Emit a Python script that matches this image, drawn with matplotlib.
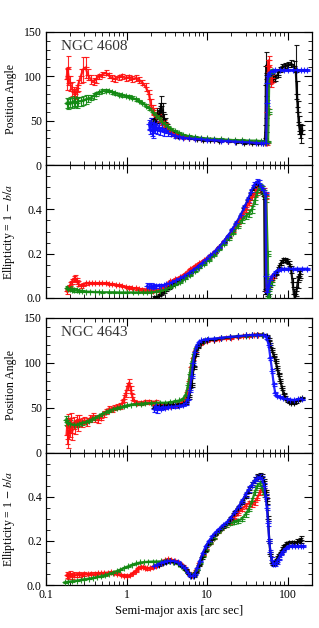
import matplotlib
matplotlib.use("Agg")
import matplotlib.pyplot as plt
from matplotlib.ticker import LogLocator, FixedLocator, MultipleLocator, NullFormatter, FixedFormatter

plt.rcParams['font.family'] = ['Liberation Serif', 'DejaVu Serif']
plt.rcParams['mathtext.fontset'] = 'stix'

# ---------------- NGC 4608 : position angle (a, value, error) ----------------
pa4608_red = [(0.18, 97, 12), (0.185, 108, 15), (0.19, 100, 10), (0.20, 92, 8), (0.21, 86, 8), (0.22, 82, 6),
    (0.23, 80, 6), (0.24, 82, 5), (0.25, 90, 6), (0.27, 100, 8), (0.29, 108, 14), (0.31, 110, 12), (0.33, 102, 6),
    (0.36, 96, 5), (0.39, 94, 4), (0.42, 97, 4), (0.46, 100, 3), (0.50, 102, 3), (0.55, 104, 3), (0.60, 101, 3),
    (0.66, 98, 3), (0.72, 97, 3), (0.80, 99, 3), (0.88, 100, 3), (0.97, 98, 3), (1.07, 99, 3), (1.18, 97, 3),
    (1.30, 98, 3), (1.43, 96, 3), (1.57, 93, 3), (1.73, 88, 4), (1.9, 80, 5), (2.0, 68, 6), (2.1, 62, 6),
    (2.2, 58, 6), (2.35, 55, 5), (2.5, 53, 5), (2.7, 50, 5), (2.9, 47, 4), (3.1, 43, 4), (3.4, 39, 3), (3.7, 36, 3),
    (4.1, 34, 2), (4.6, 33, 2), (5.2, 32, 2), (6, 31, 1.5), (7, 30, 1.5), (8.5, 29.5, 1), (10, 29, 1), (12, 28.5, 1),
    (15, 28, 1), (18, 27.5, 1), (22, 27, 1), (27, 27, 1), (33, 26.5, 1), (40, 26, 1), (46, 25.5, 1), (52, 25, 1),
    (55, 25, 2), (56, 60, 4), (57, 112, 6), (58, 118, 5), (59, 105, 5), (60, 95, 4), (62, 92, 4), (63, 98, 4)]
pa4608_green = [(0.18, 70, 6), (0.19, 69, 6), (0.20, 71, 6), (0.21, 70, 6), (0.22, 72, 6), (0.23, 71, 6),
    (0.24, 70, 6), (0.25, 72, 5), (0.27, 72, 5), (0.29, 73, 5), (0.31, 74, 5), (0.33, 75, 4), (0.36, 76, 3),
    (0.39, 78, 3), (0.42, 80, 2), (0.46, 82, 2), (0.50, 83.5, 2), (0.55, 84, 1.5), (0.60, 83.5, 1.5), (0.66, 82, 1.5),
    (0.72, 81, 1.5), (0.80, 79.5, 1.5), (0.88, 78.5, 1.5), (0.97, 78, 1.5), (1.07, 77, 1.5), (1.18, 76, 1.5),
    (1.30, 74, 1.5), (1.43, 72, 1.5), (1.57, 70, 1.5), (1.73, 67, 1.5), (1.9, 64, 1.5), (2.1, 60, 1.5),
    (2.3, 56, 1.5), (2.5, 53, 1.5), (2.75, 49, 1.5), (3.0, 46, 1.5), (3.3, 43, 1.5), (3.6, 40, 1.2), (4.0, 38, 1.2),
    (4.5, 36, 1), (5.0, 34, 1), (6, 32.5, 1), (7, 31.5, 1), (8.5, 30.5, 1), (10, 30, 1), (12, 29.5, 1), (15, 29, 1),
    (18, 28.5, 1), (22, 28, 1), (27, 28, 1), (33, 27.5, 1), (40, 27.5, 1), (46, 27, 1), (52, 26.5, 1), (57, 26, 1),
    (58, 60, 3), (59, 100, 3), (61, 104, 2), (63, 106, 2)]
pa4608_blue = [(1.9, 46, 5), (1.95, 40, 5), (2.0, 48, 5), (2.05, 38, 5), (2.1, 44, 5), (2.15, 36, 5), (2.2, 47, 5),
    (2.25, 41, 5), (2.3, 45, 5), (2.4, 39, 4), (2.5, 43, 4), (2.6, 38, 4), (2.75, 42, 4), (2.9, 37, 4), (3.1, 39, 3),
    (3.3, 36, 3), (3.6, 35, 2), (4.0, 33, 2), (4.5, 32, 1.5), (5.0, 31, 1.5), (6, 30, 1), (7, 29.5, 1), (8.5, 29, 1),
    (10, 28.5, 1), (12, 28, 1), (15, 27.5, 1), (18, 27, 1), (22, 26.5, 1), (27, 26, 1), (33, 25.5, 1), (40, 25, 1),
    (46, 24.5, 1), (50, 24.5, 1), (54, 25, 1), (55, 70, 3), (55.5, 92, 3), (56.5, 100, 2), (58, 103, 2),
    (61, 105, 1.5), (65, 106, 1), (70, 107, 1), (80, 107, 1), (90, 107, 1), (100, 107, 1), (115, 107, 1),
    (130, 107, 1), (145, 107, 1), (160, 107, 1), (175, 107, 1)]
pa4608_black = [(2.0, 48, 5), (2.1, 44, 5), (2.2, 52, 6), (2.3, 47, 5), (2.4, 58, 6), (2.5, 55, 6), (2.6, 62, 8),
    (2.7, 66, 12), (2.8, 60, 10), (2.9, 52, 6), (3.0, 48, 5), (3.2, 42, 4), (3.5, 38, 3), (3.9, 35, 2), (4.4, 33, 2),
    (5.0, 32, 1.5), (6, 30, 1), (7.5, 29, 1), (9, 28.5, 1), (11, 28, 1), (14, 27.5, 1), (18, 27, 1), (23, 26, 1),
    (29, 25, 1), (36, 24.5, 1), (43, 24.5, 1), (50, 24.5, 1), (52, 27, 3), (53, 45, 8), (53.5, 90, 12),
    (54, 112, 15), (55, 104, 6), (57, 100, 4), (60, 99, 3), (63, 100, 3), (66, 97, 3), (70, 98, 3), (75, 102, 3),
    (80, 108, 3), (86, 111, 3), (92, 112, 3), (100, 113, 3), (110, 114, 4), (120, 112, 5), (126, 105, 30),
    (130, 80, 15), (134, 60, 12), (138, 45, 10), (142, 38, 8), (146, 35, 10), (150, 40, 5)]

# ---------------- NGC 4608 : ellipticity ----------------
el4608_red = [(0.18, 0.03, 0.01), (0.19, 0.045, 0.01), (0.20, 0.06, 0.01), (0.21, 0.075, 0.012),
    (0.22, 0.085, 0.012), (0.23, 0.09, 0.012), (0.24, 0.08, 0.01), (0.25, 0.065, 0.01), (0.27, 0.055, 0.008),
    (0.29, 0.06, 0.008), (0.31, 0.066, 0.006), (0.34, 0.068, 0.005), (0.37, 0.067, 0.005), (0.41, 0.066, 0.005),
    (0.45, 0.066, 0.005), (0.5, 0.067, 0.005), (0.55, 0.066, 0.005), (0.6, 0.064, 0.005), (0.66, 0.062, 0.005),
    (0.73, 0.06, 0.005), (0.8, 0.057, 0.005), (0.88, 0.054, 0.005), (0.97, 0.05, 0.005), (1.07, 0.047, 0.005),
    (1.18, 0.045, 0.005), (1.3, 0.043, 0.005), (1.43, 0.04, 0.005), (1.57, 0.038, 0.005), (1.73, 0.036, 0.005),
    (1.9, 0.034, 0.005), (2.1, 0.032, 0.005), (2.3, 0.033, 0.005), (2.55, 0.037, 0.005), (2.8, 0.045, 0.005),
    (3.1, 0.06, 0.005), (3.5, 0.075, 0.005), (4.0, 0.085, 0.005), (4.6, 0.095, 0.005), (5.3, 0.11, 0.005),
    (6.1, 0.13, 0.005), (7, 0.145, 0.005), (8, 0.158, 0.005), (9.2, 0.172, 0.005), (10.5, 0.187, 0.005),
    (12, 0.205, 0.006), (14, 0.23, 0.006), (16, 0.255, 0.007), (18.5, 0.28, 0.008), (21, 0.305, 0.008),
    (24, 0.335, 0.01), (27, 0.37, 0.01), (30, 0.4, 0.012), (33, 0.43, 0.012), (36, 0.455, 0.015),
    (39, 0.475, 0.015), (42, 0.49, 0.015), (45, 0.495, 0.015), (48, 0.49, 0.015), (51, 0.48, 0.015),
    (54, 0.46, 0.015), (55.5, 0.03, 0.01), (57, 0.05, 0.01), (59, 0.07, 0.01), (62, 0.085, 0.01), (65, 0.1, 0.01)]
el4608_green = [(0.18, 0.045, 0.01), (0.19, 0.04, 0.01), (0.20, 0.042, 0.01), (0.21, 0.038, 0.008),
    (0.22, 0.036, 0.008), (0.24, 0.034, 0.006), (0.26, 0.032, 0.005), (0.28, 0.03, 0.004), (0.31, 0.029, 0.003),
    (0.35, 0.028, 0.003), (0.4, 0.027, 0.002), (0.45, 0.027, 0.002), (0.5, 0.026, 0.002), (0.6, 0.026, 0.002),
    (0.7, 0.026, 0.002), (0.8, 0.025, 0.002), (0.9, 0.025, 0.002), (1.0, 0.025, 0.002), (1.2, 0.025, 0.002),
    (1.4, 0.025, 0.002), (1.6, 0.025, 0.002), (1.8, 0.025, 0.002), (2.0, 0.026, 0.002), (2.3, 0.028, 0.002),
    (2.6, 0.032, 0.002), (3.0, 0.038, 0.003), (3.5, 0.048, 0.003), (4.0, 0.06, 0.003), (4.6, 0.072, 0.003),
    (5.3, 0.087, 0.003), (6.1, 0.103, 0.003), (7, 0.12, 0.003), (8, 0.137, 0.003), (9.2, 0.155, 0.004),
    (10.5, 0.172, 0.004), (12, 0.193, 0.005), (14, 0.22, 0.005), (16, 0.245, 0.006), (18.5, 0.27, 0.007),
    (21, 0.295, 0.008), (24, 0.325, 0.01), (27, 0.35, 0.012), (30, 0.37, 0.015), (33, 0.38, 0.015),
    (36, 0.4, 0.015), (39, 0.44, 0.015), (42, 0.48, 0.015), (45, 0.5, 0.015), (48, 0.49, 0.015), (51, 0.47, 0.015),
    (54, 0.45, 0.015), (56.5, 0.2, 0.01), (57.5, 0.0, 0.01), (59, 0.03, 0.01), (61, 0.06, 0.01), (63, 0.07, 0.01)]
el4608_blue = [(1.8, 0.055, 0.012), (1.9, 0.05, 0.012), (2.0, 0.056, 0.012), (2.1, 0.05, 0.01), (2.2, 0.055, 0.01),
    (2.35, 0.052, 0.008), (2.5, 0.055, 0.008), (2.7, 0.056, 0.006), (2.9, 0.058, 0.005), (3.1, 0.062, 0.005),
    (3.4, 0.066, 0.005), (3.7, 0.072, 0.005), (4.1, 0.08, 0.005), (4.6, 0.088, 0.005), (5.2, 0.1, 0.005),
    (5.9, 0.113, 0.005), (6.7, 0.127, 0.005), (7.6, 0.142, 0.005), (8.6, 0.158, 0.005), (9.8, 0.175, 0.005),
    (11, 0.192, 0.005), (12.5, 0.21, 0.005), (14, 0.23, 0.005), (16, 0.255, 0.006), (18, 0.28, 0.006),
    (20.5, 0.31, 0.007), (23, 0.34, 0.008), (26, 0.375, 0.009), (29, 0.41, 0.01), (32, 0.445, 0.01),
    (35, 0.48, 0.012), (38, 0.51, 0.012), (41, 0.525, 0.012), (44, 0.52, 0.012), (47, 0.5, 0.012),
    (50, 0.485, 0.012), (53, 0.47, 0.01), (54, 0.1, 0.01), (55, 0.025, 0.008), (56.5, 0.04, 0.008),
    (58, 0.06, 0.008), (60, 0.08, 0.008), (64, 0.1, 0.006), (69, 0.115, 0.005), (75, 0.125, 0.005),
    (82, 0.13, 0.005), (90, 0.132, 0.005), (100, 0.132, 0.005), (115, 0.132, 0.005), (130, 0.132, 0.005),
    (150, 0.132, 0.005), (175, 0.132, 0.005)]
el4608_black = [(2.2, 0.0, 0.008), (2.35, 0.003, 0.008), (2.5, 0.01, 0.008), (2.7, 0.02, 0.008), (2.9, 0.03, 0.008),
    (3.1, 0.04, 0.008), (3.4, 0.05, 0.008), (3.7, 0.06, 0.008), (4.1, 0.07, 0.006), (4.6, 0.08, 0.005),
    (5.2, 0.093, 0.005), (5.9, 0.108, 0.005), (6.7, 0.124, 0.005), (7.6, 0.14, 0.005), (8.6, 0.156, 0.005),
    (9.8, 0.173, 0.005), (11, 0.19, 0.005), (12.5, 0.208, 0.005), (14, 0.228, 0.005), (16, 0.252, 0.006),
    (18, 0.277, 0.006), (20.5, 0.305, 0.007), (23, 0.335, 0.008), (26, 0.37, 0.009), (29, 0.405, 0.01),
    (32, 0.44, 0.01), (35, 0.475, 0.012), (38, 0.5, 0.012), (41, 0.515, 0.012), (44, 0.5, 0.012),
    (48, 0.48, 0.012), (51, 0.46, 0.012), (52, 0.03, 0.01), (55, 0.02, 0.01), (58, 0.05, 0.01), (62, 0.08, 0.008),
    (67, 0.1, 0.008), (72, 0.11, 0.008), (78, 0.14, 0.01), (83, 0.16, 0.01), (88, 0.172, 0.01), (93, 0.172, 0.01),
    (99, 0.168, 0.01), (105, 0.155, 0.01), (110, 0.13, 0.015), (115, 0.07, 0.02), (119, 0.02, 0.02),
    (123, 0.0, 0.02), (128, 0.03, 0.02), (133, 0.07, 0.025), (138, 0.1, 0.02), (143, 0.11, 0.02)]

# ---------------- NGC 4643 : position angle ----------------
pa4643_red = [(0.18, 20, 10), (0.185, 35, 8), (0.19, 15, 10), (0.195, 30, 8), (0.20, 25, 8), (0.205, 38, 6),
    (0.21, 22, 8), (0.22, 33, 7), (0.23, 28, 7), (0.24, 36, 6), (0.25, 30, 6), (0.26, 37, 5), (0.28, 33, 5),
    (0.30, 36, 4), (0.32, 34, 4), (0.35, 38, 4), (0.38, 40, 4), (0.41, 38, 4), (0.44, 36, 3), (0.48, 39, 3),
    (0.52, 43, 3), (0.56, 46, 3), (0.6, 49, 3), (0.65, 48, 3), (0.7, 50, 3), (0.76, 51, 3), (0.82, 52, 3),
    (0.88, 55, 3), (0.93, 60, 4), (0.98, 66, 4), (1.03, 74, 4), (1.08, 78, 4), (1.13, 70, 4), (1.18, 62, 3),
    (1.25, 57, 2), (1.35, 55, 2), (1.5, 55, 2), (1.7, 56, 2), (1.9, 56, 2), (2.1, 55.5, 2), (2.3, 56, 2),
    (2.5, 54, 1.5), (2.8, 53, 1.5), (3.1, 52, 1.5), (3.5, 52, 1.5), (4.0, 52.5, 1.5), (4.5, 54, 1.5), (5.0, 56, 1.5),
    (5.4, 60, 1.5), (5.7, 68, 2), (6.0, 80, 2), (6.3, 95, 2), (6.6, 105, 2), (7.0, 113, 2), (7.5, 118, 1.5),
    (8.2, 121, 1.5), (9, 123, 1), (10, 124, 1), (12, 125.5, 1), (14, 126.5, 1), (17, 127.5, 1), (20, 128, 1),
    (24, 129, 1), (28, 129.5, 1), (33, 130, 1), (38, 131, 1), (43, 131.5, 1), (48, 131, 1)]
pa4643_green = [(0.175, 36, 5), (0.18, 34, 5), (0.19, 33, 5), (0.2, 32, 4), (0.22, 31, 3), (0.24, 31, 3),
    (0.26, 32, 2), (0.28, 33, 2), (0.31, 34, 1.5), (0.34, 35.5, 1.5), (0.37, 37, 1), (0.41, 39, 1), (0.45, 41, 1),
    (0.5, 43, 1), (0.55, 45, 1), (0.6, 46.5, 1), (0.67, 48, 1), (0.75, 49.5, 1), (0.83, 50.5, 1), (0.92, 51.5, 1),
    (1.0, 52.5, 1), (1.15, 53.5, 1), (1.3, 54, 1), (1.5, 54.5, 1), (1.7, 55, 1), (2.0, 55, 1), (2.3, 55.5, 1),
    (2.6, 55.5, 1), (3.0, 55.5, 1), (3.5, 56, 1), (4.0, 57, 1), (4.5, 58, 1), (5.0, 60, 1), (5.4, 64, 1.5),
    (5.8, 75, 2), (6.1, 88, 2), (6.4, 100, 2), (6.8, 110, 2), (7.2, 116, 1.5), (7.7, 120, 1.5), (8.4, 123, 1),
    (9.2, 124.5, 1), (10, 125.5, 1), (12, 126.5, 1), (15, 127.5, 1), (19, 128.5, 1), (24, 129.5, 1), (30, 130, 1),
    (36, 130.5, 1), (42, 131, 1), (48, 131, 1)]
pa4643_blue = [(2.2, 48, 3), (2.3, 52, 3), (2.4, 47, 3), (2.5, 51, 3), (2.65, 49, 2), (2.8, 51, 2), (3.0, 50, 2),
    (3.3, 51, 1.5), (3.6, 51, 1.5), (4.0, 51.5, 1.5), (4.5, 52, 1.5), (5.0, 53, 1.5), (5.4, 55, 1.5),
    (5.8, 60, 1.5), (6.1, 70, 2), (6.4, 85, 2), (6.7, 100, 2), (7.0, 112, 2), (7.4, 119, 1.5), (7.9, 123, 1.5),
    (8.5, 125, 1), (9.3, 126, 1), (10.3, 126.5, 1), (12, 127, 1), (15, 128, 1), (19, 129, 1), (24, 129.5, 1),
    (30, 130.5, 1), (36, 131, 1), (42, 131, 1), (50, 131, 1), (53, 130, 1), (55, 127, 1.5), (58, 120, 2),
    (61, 105, 2), (64, 91, 2), (67, 76, 2), (70, 66, 1.5), (74, 63, 1.5), (80, 61.5, 1), (88, 60.5, 1),
    (97, 59.5, 1), (107, 59, 1), (120, 58.5, 1), (135, 59.5, 1), (150, 60, 1)]
pa4643_black = [(2.2, 50, 2), (2.4, 51, 2), (2.6, 52, 2), (2.9, 52, 1.5), (3.3, 52.5, 1.5), (3.8, 53, 1.5),
    (4.4, 53.5, 1.5), (5.0, 54, 1.5), (5.5, 56, 1.5), (6.0, 62, 2), (6.4, 75, 2), (6.8, 95, 2), (7.2, 110, 2),
    (7.7, 118, 1.5), (8.3, 122, 1.5), (9, 124, 1), (10, 125, 1), (12, 126, 1), (15, 127.5, 1), (19, 128.5, 1),
    (24, 129.5, 1), (30, 130.5, 1), (36, 131, 1), (42, 131.5, 1), (50, 131.5, 1), (55, 130, 1), (58, 126, 1.5),
    (61, 120, 2), (64, 114, 2), (67, 108, 2), (70.5, 102, 2), (74, 94, 2), (77, 87, 2), (81, 80, 2), (85, 72, 2),
    (89, 65, 1.5), (93, 61, 1.5), (97, 58, 1.5), (103, 56.5, 1.5), (110, 55.5, 1.5), (118, 55.5, 1.5),
    (126, 57, 1.5), (134, 58.5, 1.5), (142, 59.5, 1.5), (150, 60.5, 1.5)]

# ---------------- NGC 4643 : ellipticity ----------------
el4643_red = [(0.18, 0.045, 0.015), (0.19, 0.04, 0.015), (0.2, 0.048, 0.014), (0.21, 0.042, 0.013),
    (0.22, 0.047, 0.012), (0.24, 0.045, 0.01), (0.26, 0.048, 0.01), (0.28, 0.047, 0.008), (0.3, 0.049, 0.008),
    (0.33, 0.05, 0.006), (0.36, 0.051, 0.006), (0.4, 0.052, 0.005), (0.44, 0.053, 0.005), (0.48, 0.054, 0.005),
    (0.53, 0.055, 0.005), (0.58, 0.056, 0.005), (0.64, 0.057, 0.005), (0.7, 0.055, 0.005), (0.77, 0.052, 0.005),
    (0.85, 0.047, 0.005), (0.93, 0.043, 0.005), (1.02, 0.041, 0.005), (1.1, 0.045, 0.005), (1.2, 0.055, 0.005),
    (1.3, 0.065, 0.005), (1.4, 0.078, 0.005), (1.5, 0.083, 0.005), (1.6, 0.082, 0.005), (1.7, 0.077, 0.005),
    (1.8, 0.075, 0.005), (1.95, 0.078, 0.005), (2.1, 0.082, 0.005), (2.3, 0.088, 0.005), (2.5, 0.095, 0.005),
    (2.75, 0.105, 0.005), (3.0, 0.113, 0.005), (3.3, 0.117, 0.005), (3.6, 0.115, 0.005), (4.0, 0.108, 0.005),
    (4.5, 0.1, 0.005), (5.0, 0.085, 0.005), (5.5, 0.068, 0.005), (6.0, 0.052, 0.005), (6.4, 0.045, 0.005),
    (6.8, 0.05, 0.005), (7.3, 0.068, 0.005), (8.0, 0.1, 0.005), (8.8, 0.135, 0.005), (9.7, 0.165, 0.005),
    (10.7, 0.19, 0.005), (12, 0.215, 0.005), (13.5, 0.24, 0.005), (15, 0.255, 0.006), (17, 0.27, 0.006),
    (19, 0.285, 0.007), (21.5, 0.305, 0.008), (24, 0.325, 0.009), (27, 0.345, 0.01), (30, 0.36, 0.012),
    (33, 0.37, 0.012), (36, 0.365, 0.012), (39, 0.375, 0.012), (42, 0.395, 0.012), (45, 0.42, 0.012),
    (48, 0.44, 0.012), (51, 0.425, 0.012), (53, 0.4, 0.012)]
el4643_green = [(0.17, 0.012, 0.003), (0.19, 0.015, 0.003), (0.21, 0.017, 0.003), (0.24, 0.02, 0.002),
    (0.27, 0.023, 0.002), (0.3, 0.026, 0.002), (0.34, 0.029, 0.002), (0.38, 0.032, 0.002), (0.43, 0.036, 0.002),
    (0.48, 0.04, 0.002), (0.54, 0.045, 0.002), (0.6, 0.05, 0.002), (0.67, 0.056, 0.002), (0.75, 0.063, 0.002),
    (0.84, 0.07, 0.002), (0.94, 0.078, 0.002), (1.05, 0.085, 0.002), (1.18, 0.092, 0.002), (1.32, 0.098, 0.002),
    (1.48, 0.102, 0.002), (1.66, 0.104, 0.002), (1.86, 0.105, 0.002), (2.1, 0.106, 0.002), (2.35, 0.106, 0.002),
    (2.65, 0.107, 0.002), (3.0, 0.108, 0.002), (3.4, 0.108, 0.002), (3.8, 0.104, 0.002), (4.3, 0.096, 0.002),
    (4.8, 0.085, 0.003), (5.3, 0.07, 0.003), (5.8, 0.055, 0.003), (6.3, 0.045, 0.003), (6.8, 0.05, 0.003),
    (7.4, 0.07, 0.003), (8.1, 0.1, 0.004), (8.9, 0.13, 0.004), (9.8, 0.16, 0.004), (10.8, 0.19, 0.005),
    (12, 0.215, 0.005), (13.5, 0.24, 0.005), (15, 0.255, 0.006), (17, 0.27, 0.006), (19, 0.28, 0.007),
    (21.5, 0.285, 0.008), (24, 0.29, 0.009), (27, 0.3, 0.01), (30, 0.32, 0.012), (33, 0.345, 0.012),
    (36, 0.38, 0.012), (39, 0.42, 0.012), (42, 0.45, 0.012), (45, 0.46, 0.012), (48, 0.44, 0.012),
    (51, 0.41, 0.012)]
el4643_blue = [(2.2, 0.085, 0.005), (2.4, 0.092, 0.005), (2.65, 0.1, 0.005), (2.9, 0.105, 0.005),
    (3.2, 0.108, 0.005), (3.5, 0.11, 0.005), (3.9, 0.108, 0.005), (4.3, 0.102, 0.005), (4.8, 0.09, 0.005),
    (5.3, 0.075, 0.005), (5.8, 0.055, 0.005), (6.2, 0.042, 0.005), (6.6, 0.04, 0.005), (7.0, 0.05, 0.005),
    (7.5, 0.075, 0.005), (8.1, 0.11, 0.005), (8.8, 0.145, 0.005), (9.6, 0.175, 0.005), (10.5, 0.2, 0.005),
    (11.6, 0.22, 0.005), (12.8, 0.24, 0.005), (14.2, 0.255, 0.005), (15.8, 0.27, 0.006), (17.6, 0.285, 0.006),
    (19.6, 0.305, 0.007), (22, 0.33, 0.008), (24.5, 0.355, 0.009), (27, 0.38, 0.01), (30, 0.41, 0.01),
    (33, 0.435, 0.012), (36, 0.455, 0.012), (39, 0.475, 0.012), (42, 0.485, 0.012), (45, 0.49, 0.012),
    (48, 0.48, 0.012), (51, 0.45, 0.012), (53, 0.4, 0.012), (55, 0.35, 0.012), (57, 0.28, 0.012), (59, 0.2, 0.01),
    (61, 0.15, 0.01), (63, 0.115, 0.01), (66, 0.095, 0.01), (69, 0.095, 0.01), (73, 0.105, 0.008),
    (77, 0.12, 0.008), (82, 0.14, 0.006), (88, 0.155, 0.006), (95, 0.168, 0.005), (103, 0.175, 0.005),
    (112, 0.178, 0.005), (122, 0.178, 0.005), (133, 0.176, 0.005), (145, 0.175, 0.005), (155, 0.175, 0.005)]
el4643_black = [(2.5, 0.09, 0.005), (2.8, 0.098, 0.005), (3.1, 0.104, 0.005), (3.5, 0.108, 0.005),
    (3.9, 0.106, 0.005), (4.4, 0.098, 0.005), (4.9, 0.085, 0.005), (5.4, 0.068, 0.005), (5.9, 0.05, 0.005),
    (6.3, 0.04, 0.005), (6.8, 0.042, 0.005), (7.3, 0.06, 0.005), (7.9, 0.09, 0.005), (8.6, 0.125, 0.005),
    (9.4, 0.155, 0.005), (10.3, 0.185, 0.005), (11.4, 0.21, 0.005), (12.6, 0.23, 0.005), (14, 0.25, 0.005),
    (15.6, 0.265, 0.006), (17.4, 0.28, 0.006), (19.4, 0.3, 0.007), (21.6, 0.325, 0.008), (24, 0.35, 0.009),
    (27, 0.375, 0.01), (30, 0.405, 0.01), (33, 0.43, 0.012), (36, 0.455, 0.012), (39, 0.475, 0.012),
    (42, 0.49, 0.012), (45, 0.495, 0.012), (48, 0.49, 0.012), (51, 0.47, 0.012), (53, 0.42, 0.012),
    (55, 0.38, 0.015), (57, 0.3, 0.012), (59, 0.2, 0.01), (61, 0.14, 0.01), (64, 0.1, 0.01), (67, 0.1, 0.01),
    (71, 0.11, 0.01), (76, 0.13, 0.01), (82, 0.15, 0.01), (88, 0.17, 0.01), (95, 0.185, 0.01), (103, 0.19, 0.01),
    (112, 0.19, 0.01), (121, 0.188, 0.01), (131, 0.195, 0.012), (140, 0.2, 0.012), (148, 0.205, 0.015)]

galaxies = ["NGC 4608", "NGC 4643"]
pa_ticks = [0, 50, 100, 150]
el_ticks = [0.0, 0.2, 0.4]
x_ticks = [0.1, 1, 10, 100]
x_ticklabels = ["0.1", "1", "10", "100"]

colors = {"black": "#000000", "red": "#ff1010", "green": "#138a13", "blue": "#1010ff"}

fig = plt.figure(figsize=(3.19, 6.28), dpi=100)
L, W = 46 / 319, 266 / 319
def fr(top, bot):
    return [L, 1 - bot / 628, W, (bot - top) / 628]
ax1 = fig.add_axes(fr(32, 165))
ax2 = fig.add_axes(fr(165, 298))
ax3 = fig.add_axes(fr(318, 452.5))
ax4 = fig.add_axes(fr(452.5, 585))

def draw(ax, series):
    for cname, data in series:
        xs = [d[0] for d in data]
        ys = [d[1] for d in data]
        es = [d[2] for d in data]
        c = colors[cname]
        ax.errorbar(xs, ys, yerr=es, fmt='-', color=c, ecolor=c, lw=1.6, marker='+', ms=4.5, mew=0.8,
                    elinewidth=0.8, capsize=1.8, capthick=0.8, alpha=0.9, zorder=3)

draw(ax1, [("black", pa4608_black), ("red", pa4608_red), ("green", pa4608_green), ("blue", pa4608_blue)])
draw(ax2, [("black", el4608_black), ("red", el4608_red), ("green", el4608_green), ("blue", el4608_blue)])
draw(ax3, [("red", pa4643_red), ("green", pa4643_green), ("black", pa4643_black), ("blue", pa4643_blue)])
draw(ax4, [("red", el4643_red), ("green", el4643_green), ("black", el4643_black), ("blue", el4643_blue)])

for ax in (ax1, ax2, ax3, ax4):
    ax.set_xscale('log')
    ax.set_xlim(0.1, 200)
    ax.xaxis.set_major_locator(FixedLocator(x_ticks))
    ax.xaxis.set_minor_locator(LogLocator(base=10, subs=[2, 3, 4, 5, 6, 7, 8, 9], numticks=20))
    ax.xaxis.set_minor_formatter(NullFormatter())
    ax.tick_params(which='both', direction='in', top=True, right=True, labelsize=8.5, pad=3)
    ax.tick_params(which='major', length=6, width=0.8)
    ax.tick_params(which='minor', length=3, width=0.6)
    for s in ax.spines.values():
        s.set_linewidth(0.9)

for ax in (ax1, ax3):
    ax.set_ylim(0, 150)
    ax.yaxis.set_major_locator(FixedLocator(pa_ticks))
    ax.yaxis.set_major_formatter(FixedFormatter([str(t) for t in pa_ticks]))
    ax.yaxis.set_minor_locator(MultipleLocator(10))
    ax.set_ylabel("Position Angle", fontsize=8.5)
for ax in (ax2, ax4):
    ax.set_ylim(0, 0.6)
    ax.yaxis.set_major_locator(FixedLocator(el_ticks))
    ax.yaxis.set_major_formatter(FixedFormatter(["%.1f" % t for t in el_ticks]))
    ax.yaxis.set_minor_locator(MultipleLocator(0.05))
    ax.set_ylabel("Ellipticity = 1 $-$ $b/a$", fontsize=8.5)

for ax in (ax1, ax2, ax3, ax4):
    ax.yaxis.set_label_coords(-0.11, 0.5)

for ax in (ax1, ax2, ax3):
    ax.tick_params(axis='x', labelbottom=False)
ax4.set_xticklabels(x_ticklabels)
ax4.set_xlabel("Semi-major axis [arc sec]", fontsize=9, labelpad=3)

ax1.text(0.055, 0.94, galaxies[0], transform=ax1.transAxes, fontsize=11, va='top', ha='left', color='#333333')
ax3.text(0.055, 0.94, galaxies[1], transform=ax3.transAxes, fontsize=11, va='top', ha='left', color='#333333')

fig.savefig("out.png", dpi=100)
